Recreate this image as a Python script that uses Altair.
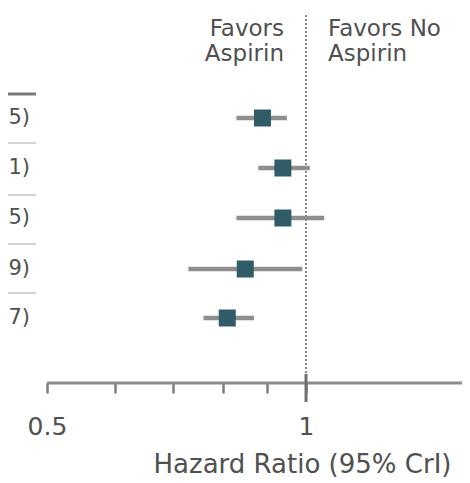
import altair as alt
import pandas as pd

# Data (hazard ratio with 95% CrI)
hr = [0.89, 0.94, 0.94, 0.85, 0.81]
lo = [0.83, 0.88, 0.83, 0.73, 0.76]
hi = [0.95, 1.01, 1.05, 0.99, 0.87]
row_tail = ["5)", "1)", "5)", "9)", "7)"]   # visible ends of the cropped row labels
row_pos = [2.2, 3.2, 4.2, 5.22, 6.2]
sep_pos = [2.7, 3.74, 4.72, 5.7]
header_pos = [1.72]
tick_values = [0.5, 0.6, 0.7, 0.8, 0.9, 1.0]
x_domain = [0.4505, 1.518]
y_domain = [0, 7.5]

df = pd.DataFrame({"hr": hr, "lo": lo, "hi": hi, "row": row_pos, "label": row_tail})
sep_df = pd.DataFrame({"y": sep_pos})
head_df = pd.DataFrame({"y": header_pos})
favor_df = pd.DataFrame({
    "text": ["Favors", "Aspirin", "Favors No", "Aspirin"],
    "y": [0.56, 1.06, 0.56, 1.06],
    "side": ["left", "left", "right", "right"],
    "one": [1.0, 1.0, 1.0, 1.0],
})
ref_df = pd.DataFrame({"x": [1.0], "y": [0.14], "y2": [7.5]})
dom_df = pd.DataFrame({"x": [0.5], "x2": [x_domain[1]], "y": [y_domain[1]]})

FONT = "DejaVu Sans"
TXT = "#505050"

xscale = alt.Scale(type="log", domain=x_domain, nice=False)
yscale = alt.Scale(domain=y_domain, reverse=True, nice=False, zero=False)

base = alt.Chart(df)

ci = base.mark_rule(color="#8e8e8e", strokeWidth=4.5).encode(
    x=alt.X("lo:Q", scale=xscale,
            axis=alt.Axis(values=tick_values,
                          labelExpr="datum.value == 0.5 ? '0.5' : (datum.value == 1 ? '1' : '')",
                          grid=False, domain=False, ticks=True, tickSize=10, tickWidth=2.5,
                          tickColor="#7c7c7c", labelFont=FONT, labelFontSize=25,
                          labelColor=TXT, labelPadding=21, labelBaseline="top",
                          title="Hazard Ratio (95% CrI)", titleFont=FONT, titleFontSize=26,
                          titleFontWeight="normal", titleColor=TXT, titleX=294, titleY=89,
                          titleAlign="center", titleBaseline="alphabetic")),
    x2="hi:Q",
    y=alt.Y("row:Q", scale=yscale, axis=None),
)

pts = base.mark_square(size=289, color="#2f5c67", opacity=1).encode(
    x=alt.X("hr:Q", scale=xscale),
    y=alt.Y("row:Q", scale=yscale),
)

row_text = base.mark_text(align="right", baseline="middle", font=FONT, fontSize=21,
                          color=TXT).encode(
    x=alt.value(22),
    y=alt.Y("row:Q", scale=yscale),
    text="label:N",
)

seps = alt.Chart(sep_df).mark_rule(color="#d2d2d2", strokeWidth=2).encode(
    x=alt.value(0), x2=alt.value(28),
    y=alt.Y("y:Q", scale=yscale),
)

head = alt.Chart(head_df).mark_rule(color="#7a7a7a", strokeWidth=3).encode(
    x=alt.value(0), x2=alt.value(28),
    y=alt.Y("y:Q", scale=yscale),
)

refline = alt.Chart(ref_df).mark_rule(color="#8a8a8a", strokeWidth=2, strokeDash=[2, 2]).encode(
    x=alt.X("x:Q", scale=xscale),
    y=alt.Y("y:Q", scale=yscale),
    y2="y2:Q",
)

dom = alt.Chart(dom_df).mark_rule(color="#8c8c8c", strokeWidth=3).encode(
    x=alt.X("x:Q", scale=xscale),
    x2="x2:Q",
    y=alt.Y("y:Q", scale=yscale),
)

tick1 = alt.Chart(ref_df).mark_rule(color="#6f6f6f", strokeWidth=3).encode(
    x=alt.X("x:Q", scale=xscale),
    y=alt.value(366),
    y2=alt.value(394),
)

fav_left = alt.Chart(favor_df).transform_filter("datum.side == 'left'").mark_text(
    align="right", baseline="alphabetic", font=FONT, fontSize=23, color=TXT, dx=-22
).encode(x=alt.X("one:Q", scale=xscale), y=alt.Y("y:Q", scale=yscale), text="text:N")

fav_right = alt.Chart(favor_df).transform_filter("datum.side == 'right'").mark_text(
    align="left", baseline="alphabetic", font=FONT, fontSize=23, color=TXT, dx=22
).encode(x=alt.X("one:Q", scale=xscale), y=alt.Y("y:Q", scale=yscale), text="text:N")

chart = alt.layer(ci, refline, dom, tick1, pts, seps, head, row_text, fav_left, fav_right).properties(
    width=454, height=375,
    autosize=alt.AutoSizeParams(type="none"),
    padding={"left": 0, "top": 0, "right": 0, "bottom": 97},
).configure_view(stroke=None)

chart.save("out.html", embed_options={"renderer": "svg", "actions": False})
